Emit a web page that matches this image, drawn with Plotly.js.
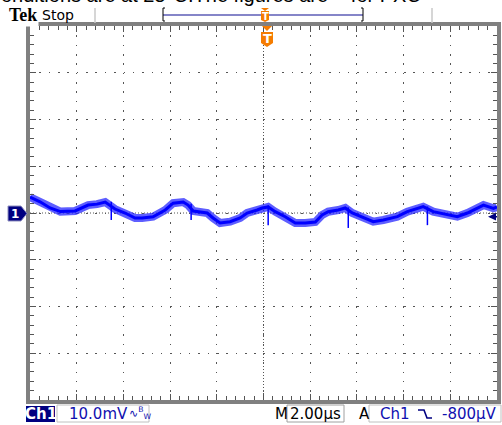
<!DOCTYPE html>
<html><head><meta charset="utf-8">
<script src="https://cdn.plot.ly/plotly-3.0.1.min.js"></script>
<style>html,body{margin:0;padding:0;background:#fff;overflow:hidden}#chart{width:502px;height:425px}</style>
</head><body><div id="chart"></div>
<script>
// ---- data (time in µs, voltage in mV) ----
const timeUs = [-10.0,-9.57,-9.14,-8.7,-8.07,-7.51,-7.13,-6.78,-6.36,-5.93,-5.5,-5.2,-4.73,-4.21,-3.87,-3.44,-3.23,-3.01,-2.41,-2.16,-1.86,-1.43,-1.0,-0.7,-0.27,-0.06,0.2,0.5,0.93,1.36,1.79,2.22,2.51,2.77,3.2,3.5,3.8,4.36,4.7,5.13,5.73,6.16,6.59,6.84,7.27,7.87,8.3,8.73,9.16,9.42,9.85,10.0];
const voltsMv = [3.4,2.4,1.07,0.3,0.43,1.7,1.9,2.35,0.85,0,-1.07,-1.07,-0.79,0.64,2.1,2.35,1.7,0.43,0,-1.07,-2.14,-1.86,-1.07,0,0.64,1.07,1.3,0.28,-0.79,-2.14,-2.14,-1.92,-0.43,0.28,0.64,1.07,0,-1.07,-1.86,-1.5,-0.79,0.28,1.0,1.35,0.28,-0.43,-0.79,0,1.0,1.7,1.0,1.3];
// narrow glitches visible on the trace
const spikeTimesUs = [-6.52,-3.1,0.2,3.63,7.02];
const spikeTopsMv = [2.4,2.0,1.6,1.2,1.4];
const spikeBottomsMv = [-1.5,-1.5,-2.6,-3.2,-2.6];
const timeRange = [-10, 10];      // 10 div x 2.00 µs
const voltRange = [-40, 40];      // 8 div x 10.0 mV
const triggerLevelMv = -0.8;
const channelLabel = 'Ch1';
const voltsPerDivText = '10.0mV';
const timePerDivText = '2.00µs';
const triggerText = '-800µV';
const headerBrand = 'Tek';
const headerState = 'Stop';
const docText = 'onditions are at 25°C.The figures are ~ for PXC';

// ---- pixel helpers for decorations (plot area 30..497 x 26..400) ----
const L = 30, R = 497, T = 26, B = 400;
const X = px => (px - L) / (R - L);
const Y = py => (B - py) / (B - T);
const P = (pts) => 'M' + pts.map(p => X(p[0]) + ',' + Y(p[1])).join('L') + 'Z';
const Pl = (pts) => 'M' + pts.map(p => X(p[0]) + ',' + Y(p[1])).join('L');

const blue = '#0000ff';
const navy = '#000080';
const orange = '#f57c00';
const gridC = '#555555';

const spikeX = [], spikeY = [];
spikeTimesUs.forEach((t, i) => { spikeX.push(t, t, null); spikeY.push(spikeTopsMv[i], spikeBottomsMv[i], null); });

const traces = [
  {x: timeUs, y: voltsMv, mode: 'lines', line: {color: 'rgba(40,40,255,0.75)', width: 8}, hoverinfo: 'skip'},
  {x: timeUs, y: voltsMv, mode: 'lines', line: {color: blue, width: 3}, hoverinfo: 'skip'},
  {x: spikeX, y: spikeY, mode: 'lines', line: {color: blue, width: 1.5}, hoverinfo: 'skip', connectgaps: false}
];

const baseAxis = {showticklabels: false, zeroline: false, fixedrange: true};

const layout = {
  width: 502, height: 425,
  margin: {l: L, r: 502 - R, t: T, b: 425 - B, pad: 0},
  paper_bgcolor: '#ffffff', plot_bgcolor: '#ffffff',
  showlegend: false,
  xaxis: Object.assign({}, baseAxis, {
    range: timeRange, dtick: 2, tick0: -10,
    showgrid: true, gridcolor: gridC, gridwidth: 1, griddash: '1.5px,7.84px',
    showline: true, linecolor: '#808080', linewidth: 4, mirror: 'allticks',
    ticks: 'inside', ticklen: 6, tickwidth: 1, tickcolor: gridC,
    minor: {ticks: 'inside', ticklen: 4, dtick: 0.4, tick0: -10, tickcolor: gridC, tickwidth: 1, showgrid: false}
  }),
  yaxis: Object.assign({}, baseAxis, {
    range: voltRange, dtick: 10, tick0: -40,
    showgrid: true, gridcolor: gridC, gridwidth: 1, griddash: '1.5px,7.85px',
    showline: true, linecolor: '#808080', linewidth: 4, mirror: 'allticks',
    ticks: 'inside', ticklen: 6, tickwidth: 1, tickcolor: gridC,
    minor: {ticks: 'inside', ticklen: 4, dtick: 2, tick0: -40, tickcolor: gridC, tickwidth: 1, showgrid: false}
  }),
  xaxis2: Object.assign({}, baseAxis, {overlaying: 'x', anchor: 'free', position: 0.5, range: timeRange, dtick: 0.4, tick0: 0,
    showgrid: false, showline: false, ticks: 'outside', ticklen: 3, tickcolor: gridC}),
  xaxis3: Object.assign({}, baseAxis, {overlaying: 'x', anchor: 'free', position: 0.5, range: timeRange, dtick: 0.4, tick0: 0,
    showgrid: false, showline: false, ticks: 'inside', ticklen: 3, tickcolor: gridC}),
  yaxis2: Object.assign({}, baseAxis, {overlaying: 'y', anchor: 'free', position: 0.5, range: voltRange, dtick: 2, tick0: 0,
    showgrid: false, showline: false, ticks: 'outside', ticklen: 3, tickcolor: gridC}),
  yaxis3: Object.assign({}, baseAxis, {overlaying: 'y', anchor: 'free', position: 0.5, range: voltRange, dtick: 2, tick0: 0,
    showgrid: false, showline: false, ticks: 'inside', ticklen: 3, tickcolor: gridC}),
  shapes: [
    {type: 'line', xref: 'x', yref: 'paper', x0: 0, x1: 0, y0: 0, y1: 1, line: {color: gridC, width: 1, dash: '1px,2px'}, layer: 'below'},
    {type: 'line', xref: 'paper', yref: 'y', x0: 0, x1: 1, y0: 0, y1: 0, line: {color: gridC, width: 1, dash: '1px,2px'}, layer: 'below'},
    {type: 'line', xref: 'paper', yref: 'paper', x0: X(95), x1: X(95), y0: Y(8), y1: Y(23), line: {color: '#c8c8c8', width: 1.5}},
    {type: 'line', xref: 'paper', yref: 'paper', x0: X(432), x1: X(432), y0: Y(8), y1: Y(23), line: {color: '#c8c8c8', width: 1.5}},
    {type: 'line', xref: 'paper', yref: 'paper', x0: X(163), x1: X(363), y0: Y(15), y1: Y(15), line: {color: '#8585c8', width: 2}},
    {type: 'path', xref: 'paper', yref: 'paper', path: Pl([[165, 8], [163, 8], [163, 21], [165, 21]]), line: {color: '#000', width: 1}},
    {type: 'path', xref: 'paper', yref: 'paper', path: Pl([[361, 8], [363, 8], [363, 21], [361, 21]]), line: {color: '#000', width: 1}},
    {type: 'path', xref: 'paper', yref: 'paper', path: P([[261, 8], [269, 8], [265, 11]]), fillcolor: orange, line: {width: 0}},
    {type: 'path', xref: 'paper', yref: 'paper', path: P([[261, 11], [269, 11], [269, 20], [265, 22], [261, 20]]), fillcolor: orange, line: {width: 0}},
    {type: 'path', xref: 'paper', yref: 'paper', path: P([[262, 26], [272, 26], [267, 31]]), fillcolor: orange, line: {width: 0}},
    {type: 'path', xref: 'paper', yref: 'paper', path: P([[261, 32], [273, 32], [273, 43], [267, 47], [261, 43]]), fillcolor: orange, line: {width: 0}},
    {type: 'path', xref: 'paper', yref: 'paper', path: P([[8, 206], [21, 206], [27, 213.5], [21, 221], [8, 221]]), fillcolor: navy, line: {color: '#9090c0', width: 1}},
    {type: 'path', xref: 'paper', yref: 'y', path: 'M' + X(488) + ',' + triggerLevelMv + 'L' + X(496) + ',' + (triggerLevelMv + 0.8) + 'L' + X(496) + ',' + (triggerLevelMv - 0.8) + 'Z', fillcolor: navy, line: {width: 0}},
    {type: 'line', xref: 'paper', yref: 'y', x0: X(490), x1: X(497), y0: triggerLevelMv, y1: triggerLevelMv, line: {color: navy, width: 1.5}},
    {type: 'rect', xref: 'paper', yref: 'paper', x0: X(26), x1: X(55), y0: Y(422), y1: Y(406), fillcolor: navy, line: {width: 0}},
    {type: 'rect', xref: 'paper', yref: 'paper', x0: X(57), x1: X(149), y0: Y(422), y1: Y(405), fillcolor: 'rgba(0,0,0,0)', line: {color: '#c0c0c0', width: 1}},
    {type: 'rect', xref: 'paper', yref: 'paper', x0: X(287), x1: X(344), y0: Y(422), y1: Y(405), fillcolor: 'rgba(0,0,0,0)', line: {color: '#a0a0a0', width: 1}},
    {type: 'rect', xref: 'paper', yref: 'paper', x0: X(369), x1: X(501), y0: Y(422), y1: Y(405), fillcolor: 'rgba(0,0,0,0)', line: {color: '#c0c0c0', width: 1}},
    {type: 'path', xref: 'paper', yref: 'paper', path: Pl([[418, 410], [424, 410], [427, 418], [432, 418]]), line: {color: navy, width: 1.6}}
  ],
  annotations: [
    {xref: 'paper', yref: 'paper', x: X(-1), y: Y(-5), xanchor: 'left', yanchor: 'middle', text: docText, showarrow: false,
      font: {family: 'Liberation Sans, Arial', size: 20, color: '#000'}},
    {xref: 'paper', yref: 'paper', x: X(7), y: Y(15), xanchor: 'left', yanchor: 'middle', text: '<b>' + headerBrand + '</b>', showarrow: false,
      font: {family: 'Liberation Serif, Times New Roman', size: 18, color: '#000'}, bgcolor: '#ffffff'},
    {xref: 'paper', yref: 'paper', x: X(40), y: Y(15), xanchor: 'left', yanchor: 'middle', text: headerState, showarrow: false,
      font: {family: 'DejaVu Sans', size: 14, color: '#000'}},
    {xref: 'paper', yref: 'paper', x: X(265), y: Y(16.5), xanchor: 'center', yanchor: 'middle', text: '<b>T</b>', showarrow: false,
      font: {family: 'DejaVu Sans', size: 10, color: '#fff'}},
    {xref: 'paper', yref: 'paper', x: X(267), y: Y(38.5), xanchor: 'center', yanchor: 'middle', text: '<b>T</b>', showarrow: false,
      font: {family: 'DejaVu Sans', size: 13, color: '#fff'}},
    {xref: 'paper', yref: 'paper', x: X(15), y: Y(213.5), xanchor: 'center', yanchor: 'middle', text: '<b>1</b>', showarrow: false,
      font: {family: 'DejaVu Sans', size: 12, color: '#fff'}},
    {xref: 'paper', yref: 'paper', x: X(40.5), y: Y(414), xanchor: 'center', yanchor: 'middle', text: '<b>' + channelLabel + '</b>', showarrow: false,
      font: {family: 'DejaVu Sans', size: 15, color: '#fff'}},
    {xref: 'paper', yref: 'paper', x: X(67), y: Y(414), xanchor: 'left', yanchor: 'middle', text: voltsPerDivText, showarrow: false,
      font: {family: 'DejaVu Sans', size: 15, color: '#1010b0'}},
    {xref: 'paper', yref: 'paper', x: X(127), y: Y(413), xanchor: 'left', yanchor: 'middle', text: '∿<sup>B</sup><sub>W</sub>', showarrow: false,
      font: {family: 'DejaVu Sans', size: 11, color: '#1010b0'}},
    {xref: 'paper', yref: 'paper', x: X(273), y: Y(414), xanchor: 'left', yanchor: 'middle', text: 'M', showarrow: false,
      font: {family: 'DejaVu Sans', size: 15, color: '#000'}},
    {xref: 'paper', yref: 'paper', x: X(315.5), y: Y(414), xanchor: 'center', yanchor: 'middle', text: timePerDivText, showarrow: false,
      font: {family: 'DejaVu Sans', size: 15, color: '#000'}},
    {xref: 'paper', yref: 'paper', x: X(357), y: Y(414), xanchor: 'left', yanchor: 'middle', text: 'A', showarrow: false,
      font: {family: 'DejaVu Sans', size: 15, color: '#000'}},
    {xref: 'paper', yref: 'paper', x: X(378), y: Y(414), xanchor: 'left', yanchor: 'middle', text: channelLabel, showarrow: false,
      font: {family: 'DejaVu Sans', size: 15, color: '#1010b0'}},
    {xref: 'paper', yref: 'paper', x: X(499), y: Y(414), xanchor: 'right', yanchor: 'middle', text: triggerText, showarrow: false,
      font: {family: 'DejaVu Sans', size: 15, color: '#1010b0'}}
  ]
};

Plotly.newPlot('chart', traces, layout, {staticPlot: true, displayModeBar: false});
</script>
</body></html>
